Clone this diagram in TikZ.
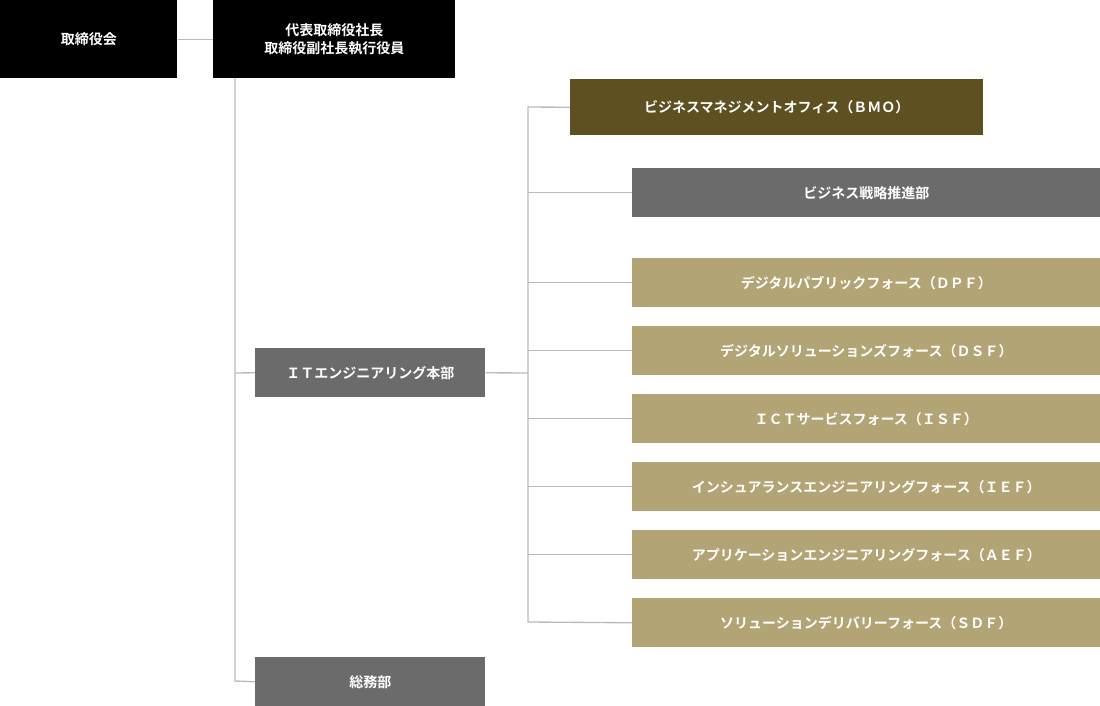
\documentclass[tikz,border=0pt]{standalone}
\usepackage{fontspec}
\setmainfont{Noto Sans CJK JP}[BoldFont={* Bold}]
\begin{document}
\begin{tikzpicture}[x=0.75pt,y=-0.75pt,
 bx/.style={anchor=north west,inner sep=0,text=white,font=\bfseries\fontsize{10.5}{14}\selectfont,align=center},
 ln/.style={draw=black!27,line width=1pt}]
\useasboundingbox (0,0) rectangle (1100,706);
\definecolor{olv}{HTML}{5E5020}\definecolor{tan}{HTML}{B3A475}\definecolor{gr}{HTML}{6B6B6B}
\newcommand\bxx[7]{\node[bx,fill=#6,minimum width=#4*0.75pt,minimum height=#5*0.75pt] (#1) at (#2,#3) {#7};}
\bxx{a}{0}{0}{177}{78}{black}{取締役会}
\bxx{b}{213}{0}{242}{78}{black}{代表取締役社長\\取締役副社長執行役員}
\bxx{bmo}{570}{79}{413}{56}{olv}{ビジネスマネジメントオフィス（ＢＭＯ）}
\bxx{s}{632}{168}{468}{49}{gr}{ビジネス戦略推進部}
\bxx{f1}{632}{258}{468}{49}{tan}{デジタルパブリックフォース（ＤＰＦ）}
\bxx{f2}{632}{326}{468}{49}{tan}{デジタルソリューションズフォース（ＤＳＦ）}
\bxx{f3}{632}{394}{468}{49}{tan}{ＩＣＴサービスフォース（ＩＳＦ）}
\bxx{f4}{632}{462}{468}{49}{tan}{インシュアランスエンジニアリングフォース（ＩＥＦ）}
\bxx{f5}{632}{530}{468}{49}{tan}{アプリケーションエンジニアリングフォース（ＡＥＦ）}
\bxx{f6}{632}{598}{468}{49}{tan}{ソリューションデリバリーフォース（ＳＤＦ）}
\bxx{it}{255}{348}{230}{49}{gr}{ＩＴエンジニアリング本部}
\bxx{g}{255}{657}{230}{49}{gr}{総務部}
\draw[ln] (a.east) -- (b.west);
\coordinate (t) at (235,78); \coordinate (bt) at (235,681);
\draw[ln] (t) -- (bt) -- (g.west);
\draw[ln] (235,373) -- (it.west);
\coordinate (v1) at (528,107); \coordinate (v2) at (528,622);
\draw[ln] (it.east) -- (528,373);
\draw[ln] (bmo.west) -- (v1) -- (v2) -- (f6.west);
\foreach \n in {s,f1,f2,f3,f4,f5} \draw[ln] (\n.west) -- (528,0 |- \n.west);
\end{tikzpicture}
\end{document}
